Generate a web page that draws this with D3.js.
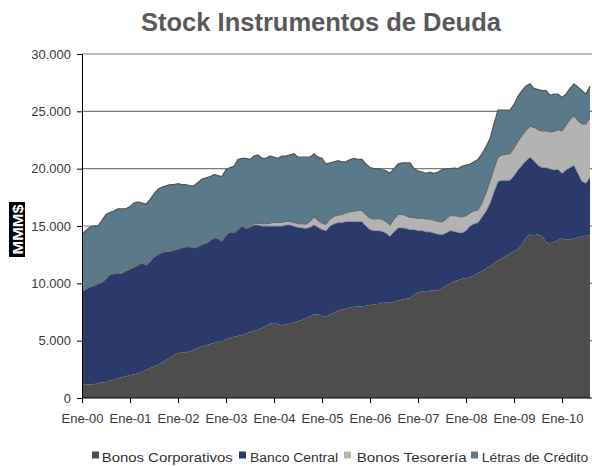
<!DOCTYPE html>
<html>
<head>
<meta charset="utf-8">
<script src="https://cdn.jsdelivr.net/npm/d3@7"></script>
<style>
  body { margin: 0; background: #fff; }
  svg text { font-family: "Liberation Sans", Arial, sans-serif; }
</style>
</head>
<body>
<div id="chart"></div>
<script>
// monthly stock, Ene-00 .. Ago-10 (MMM$)
const tickLabels = ["Ene-00", "Ene-01", "Ene-02", "Ene-03", "Ene-04", "Ene-05",
  "Ene-06", "Ene-07", "Ene-08", "Ene-09", "Ene-10"];

const seriesNames = ["Bonos Corporativos", "Banco Central", "Bonos Tesorería", "Létras de Crédito"];

const bonosCorporativos = [
  1200, 1200, 1200, 1200, 1300, 1350, 1400, 1500, 1600, 1700, 1800, 1900,
  2000, 2050, 2150, 2300, 2450, 2600, 2750, 2900, 3100, 3300, 3500, 3750,
  3900, 4000, 4000, 4050, 4200, 4400, 4500, 4600, 4700, 4800, 4900, 5000,
  5150, 5200, 5350, 5400, 5500, 5600, 5750, 5850, 5950, 6100, 6300, 6500,
  6550, 6450, 6350, 6400, 6500, 6600, 6700, 6800, 6950, 7100, 7300, 7300,
  7150, 7100, 7250, 7450, 7600, 7700, 7800, 7900, 7950, 7950, 8000, 8050,
  8100, 8150, 8200, 8300, 8300, 8300, 8400, 8500, 8600, 8650, 8700, 9000,
  9200, 9300, 9300, 9350, 9400, 9400, 9600, 9800, 10000, 10150, 10300, 10400,
  10450, 10500, 10700, 10900, 11050, 11300, 11500, 11750, 12000, 12200, 12400, 12600,
  12800, 13000, 13400, 14000, 14250, 14200, 14250, 14100, 13600, 13500, 13600, 13750,
  13900, 13800, 13850, 13900, 14000, 14100, 14150, 14200
];

const bancoCentral = [
  8100, 8300, 8500, 8600, 8700, 8750, 9000, 9300, 9250, 9200, 9100, 9200,
  9250, 9350, 9450, 9500, 9150, 9300, 9550, 9600, 9600, 9500, 9300, 9150,
  9100, 9100, 9200, 9150, 8900, 8800, 8900, 8900, 9000, 9200, 9000, 8700,
  9050, 9300, 9050, 9300, 9500, 9200, 9150, 9250, 9150, 8900, 8700, 8500,
  8450, 8550, 8650, 8700, 8600, 8400, 8200, 8050, 7850, 7800, 7800, 7600,
  7550, 7500, 7750, 7750, 7700, 7600, 7600, 7500, 7450, 7450, 7400, 6950,
  6600, 6450, 6400, 6250, 6100, 5800, 6100, 6350, 6250, 6150, 6000, 5700,
  5400, 5300, 5200, 5150, 5000, 4900, 4650, 4600, 4600, 4400, 4150, 4000,
  4150, 4500, 4500, 4400, 4750, 5000, 5500, 6250, 6900, 6800, 6600, 6400,
  6600, 6900, 6900, 6700, 6750, 6500, 6050, 6000, 6500, 6500, 6300, 6200,
  5700, 6100, 6250, 6400, 5600, 4800, 4600, 5100
];

const bonosTesoreria = [
  0, 0, 0, 0, 0, 0, 0, 0, 0, 0, 0, 0,
  0, 0, 0, 0, 0, 0, 0, 0, 0, 0, 0, 0,
  0, 0, 0, 0, 0, 0, 0, 0, 0, 0, 0, 0,
  0, 0, 0, 0, 0, 0, 0, 100, 150, 200, 200, 250,
  300, 300, 300, 300, 300, 300, 300, 350, 350, 500, 700, 600,
  550, 550, 600, 650, 650, 700, 750, 850, 900, 950, 950, 1000,
  1000, 1000, 1050, 1050, 1000, 1000, 1100, 1150, 1150, 1100, 1050, 1050,
  1050, 1100, 1100, 1100, 1100, 1100, 1100, 1200, 1300, 1350, 1400, 1400,
  1300, 1150, 1100, 1100, 1200, 1600, 1900, 2000, 2100, 2200, 2250, 2300,
  2400, 2500, 2600, 2650, 2700, 2900, 3100, 3200, 3200, 3200, 3350, 3450,
  3700, 3900, 4200, 4300, 4600, 5000, 5150, 5150
];

const letrasCredito = [
  5000, 5100, 5200, 5200, 5000, 5400, 5600, 5400, 5450, 5600, 5600, 5400,
  5450, 5600, 5500, 5200, 5300, 5400, 5500, 5700, 5700, 5700, 5800, 5700,
  5700, 5500, 5400, 5300, 5400, 5600, 5700, 5700, 5600, 5500, 5500, 5600,
  5700, 5600, 5800, 6100, 5900, 6100, 5900, 5900, 5950, 5700, 5700, 5850,
  5700, 5600, 5800, 5700, 5800, 6000, 5800, 5800, 5850, 5600, 5500, 5500,
  5650, 5250, 4900, 4750, 4750, 4600, 4450, 4550, 4600, 4450, 4450, 4400,
  4400, 4400, 4350, 4300, 4400, 4500, 4400, 4400, 4500, 4600, 4750, 4250,
  4150, 4000, 4000, 4100, 4100, 4300, 4550, 4400, 4100, 4150, 4150, 4400,
  4400, 4250, 4300, 4400, 4300, 4000, 3700, 3900, 4100, 3900, 3850, 3800,
  3800, 3900, 3900, 3850, 3700, 3400, 3500, 3500, 3500, 3200, 3250, 3100,
  2900, 2700, 2700, 2800, 2900, 2900, 2600, 2750
];

const yTicks = [0, 5000, 10000, 15000, 20000, 25000, 30000];

const colors = ["#4d4d4d", "#2c3a6b", "#b3b3b3", "#5a7a8b"];

// table for d3.stack
const keys = ["corp", "banco", "tes", "letras"];
const table = bonosCorporativos.map((v, i) => ({
  i: i,
  corp: v,
  banco: bancoCentral[i],
  tes: bonosTesoreria[i],
  letras: letrasCredito[i]
}));

const width = 592, height = 466;
const margin = { top: 54, right: 2, bottom: 68, left: 82 };

const svg = d3.select("#chart").append("svg")
  .attr("width", width)
  .attr("height", height);

const x = d3.scaleLinear()
  .domain([0, table.length - 1])
  .range([margin.left, width - margin.right]);

const y = d3.scaleLinear()
  .domain([0, 30000])
  .range([height - margin.bottom, margin.top]);

const es = d3.formatLocale({ decimal: ",", thousands: ".", grouping: [3], currency: ["$", ""] });
const fmt = es.format(",.0f");

// title
svg.append("text")
  .attr("x", 321)
  .attr("y", 31)
  .attr("text-anchor", "middle")
  .style("font-size", "25.5px")
  .style("font-weight", "bold")
  .style("fill", "#595959")
  .text("Stock Instrumentos de Deuda");

// gridlines
svg.append("g")
  .selectAll("line")
  .data(yTicks.slice(1))
  .join("line")
  .attr("x1", margin.left)
  .attr("x2", width)
  .attr("y1", d => y(d))
  .attr("y2", d => y(d))
  .attr("stroke", "#7a7a7a")
  .attr("stroke-width", 1.2);

// stacked areas
const stacked = d3.stack().keys(keys)(table);

const area = d3.area()
  .x(d => x(d.data.i))
  .y0(d => y(d[0]))
  .y1(d => y(d[1]));

svg.append("g")
  .selectAll("path")
  .data(stacked)
  .join("path")
  .attr("d", area)
  .attr("fill", (d, i) => colors[i]);

const topLine = d3.line()
  .x(d => x(d.data.i))
  .y(d => y(d[1]));

// outlines along the top of each layer
svg.append("path")
  .attr("d", topLine(stacked[1]))
  .attr("fill", "none")
  .attr("stroke", "#8c90a6")
  .attr("stroke-width", 1);

svg.append("path")
  .attr("d", topLine(stacked[2]))
  .attr("fill", "none")
  .attr("stroke", "#6a6a6a")
  .attr("stroke-width", 1.1);

svg.append("path")
  .attr("d", topLine(stacked[3]))
  .attr("fill", "none")
  .attr("stroke", "#575757")
  .attr("stroke-width", 1.3);

// y axis
const yAxis = svg.append("g")
  .attr("transform", `translate(${margin.left},0)`)
  .call(d3.axisLeft(y).tickValues(yTicks).tickFormat(fmt).tickSize(5).tickPadding(6));
yAxis.select(".domain").attr("stroke", "#000");
yAxis.selectAll(".tick line").attr("stroke", "#000");
yAxis.selectAll("text")
  .style("font-size", "13px")
  .style("fill", "#3a3a3a")
  .style("font-family", "'Liberation Sans', Arial, sans-serif");

// x axis
const xAxis = svg.append("g")
  .attr("transform", `translate(0,${height - margin.bottom})`)
  .call(d3.axisBottom(x)
    .tickValues(tickLabels.map((d, i) => i * 12))
    .tickFormat((d, i) => tickLabels[i])
    .tickSize(5)
    .tickPadding(11)
    .tickSizeOuter(0));
xAxis.select(".domain").attr("stroke", "#000").attr("d", `M${margin.left},0H${width}`);
xAxis.selectAll(".tick line").attr("stroke", "#000");
xAxis.selectAll("text")
  .style("font-size", "13px")
  .style("fill", "#3a3a3a")
  .style("font-family", "'Liberation Sans', Arial, sans-serif");

// y axis title: white on black box
svg.append("rect")
  .attr("x", 9)
  .attr("y", 202)
  .attr("width", 16)
  .attr("height", 55)
  .attr("fill", "#000");

svg.append("text")
  .attr("transform", "translate(22.5,229.5) rotate(-90)")
  .attr("text-anchor", "middle")
  .attr("textLength", 50)
  .attr("lengthAdjust", "spacingAndGlyphs")
  .style("font-size", "15px")
  .style("font-weight", "bold")
  .style("fill", "#fff")
  .text("MMM$");

// legend
const legendLayout = [
  { sx: 92, tx: 101.7, tw: 131 },
  { sx: 239, tx: 250, tw: 88 },
  { sx: 344, tx: 356.7, tw: 110 },
  { sx: 471, tx: 481.7, tw: 106.5 }
];

const legend = svg.append("g")
  .selectAll("g")
  .data(seriesNames)
  .join("g");

legend.append("rect")
  .attr("x", (d, i) => legendLayout[i].sx)
  .attr("y", 451.5)
  .attr("width", 7)
  .attr("height", 7)
  .attr("fill", (d, i) => colors[i]);

legend.append("text")
  .attr("x", (d, i) => legendLayout[i].tx)
  .attr("y", 461.5)
  .attr("textLength", (d, i) => legendLayout[i].tw)
  .attr("lengthAdjust", "spacingAndGlyphs")
  .style("font-size", "12.5px")
  .style("fill", "#333")
  .text(d => d);
</script>
</body>
</html>
